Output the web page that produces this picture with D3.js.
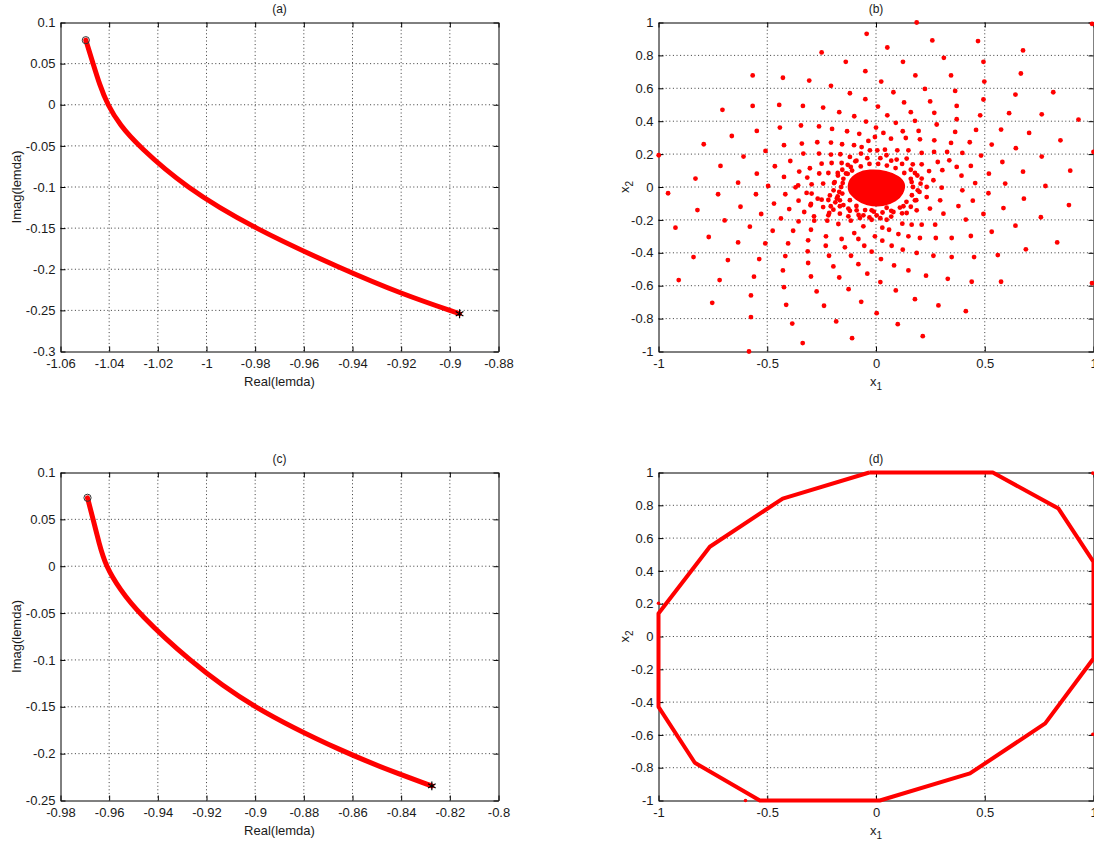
<!DOCTYPE html>
<html>
<head>
<meta charset="utf-8">
<script src="https://cdn.jsdelivr.net/npm/d3@7"></script>
<style>
  body { margin: 0; background: #fff; }
</style>
</head>
<body>
<script>
// ---------------------------------------------------------
// Daten
// ---------------------------------------------------------

// (a) Eigenwert-Verlauf
const curveA = [
  [-1.0496, 0.0785], [-1.0466, 0.05], [-1.044, 0.025], [-1.0407, 0.0], [-1.0355, -0.025],
  [-1.028, -0.05], [-1.0089, -0.1], [-0.9808, -0.15], [-0.944, -0.2], [-0.92, -0.2298],
  [-0.896, -0.2541]
];
// (c) Eigenwert-Verlauf
const curveC = [
  [-0.9689, 0.073], [-0.9666, 0.05], [-0.9642, 0.025], [-0.9614, 0.0], [-0.9555, -0.025],
  [-0.948, -0.05], [-0.9275, -0.1], [-0.9021, -0.15], [-0.8624, -0.2], [-0.84, -0.2227],
  [-0.8274, -0.2344]
];

// (b) Zustandspunkte
const bPoints = [
  // oben
  [0.187, 1.0], [-0.043, 0.931], [0.259, 0.891], [0.052, 0.848], [-0.250, 0.818], [-0.139, 0.761],
  [0.124, 0.761], [0.312, 0.785], [-0.049, 0.704], [-0.307, 0.647], [0.024, 0.641], [0.181, 0.678],
  [0.345, 0.678], [-0.207, 0.615], [0.225, 0.596], [-0.120, 0.570], [0.080, 0.576], [0.364, 0.584],
  [-0.049, 0.534], [-0.567, 0.678], [-0.428, 0.664], [0.993, 0.992], [0.469, 0.887], [0.676, 0.830],
  [0.494, 0.761], [0.666, 0.690], [0.498, 0.641], [0.641, 0.562], [0.815, 0.576], [0.494, 0.532],
  [0.249, 0.520], [0.129, 0.514], [0.009, 0.489],
  // links
  [-0.567, 0.493], [-0.706, 0.469], [-0.663, 0.310], [-0.548, 0.341], [-0.792, 0.260], [-0.999, 0.193],
  [-0.609, 0.185], [-0.715, 0.128], [-0.548, 0.081], [-0.830, 0.051], [-0.634, 0.026],
  [-0.956, -0.038], [-0.726, -0.044], [-0.552, -0.044], [-0.821, -0.140], [-0.623, -0.120],
  [-0.696, -0.203], [-0.922, -0.247], [-0.580, -0.241], [-0.769, -0.304], [-0.634, -0.337],
  [-0.839, -0.426], [-0.681, -0.444], [-0.537, -0.438], [-0.907, -0.566], [-0.719, -0.566],
  [-0.561, -0.545], [-0.575, -0.659], [-0.753, -0.704], [-0.575, -0.791], [-0.584, -1.0],
  // unten links
  [-0.509, -0.343], [-0.404, -0.343], [-0.417, -0.420], [-0.428, -0.507], [-0.423, -0.609],
  [-0.413, -0.716], [-0.385, -0.830], [-0.337, -0.949], [-0.475, -0.266], [-0.381, -0.266],
  [-0.528, -0.164], [-0.437, -0.191], [-0.356, -0.209], [-0.469, -0.101], [-0.356, -0.083],
  [-0.399, -0.134], [-0.330, -0.152], [-0.417, -0.044], [-0.370, -0.002],
  // unten mitte
  [-0.100, -0.280], [-0.230, -0.300], [-0.158, -0.316], [-0.081, -0.316], [-0.005, -0.300],
  [0.029, -0.326], [0.103, -0.286], [0.149, -0.300], [0.202, -0.310], [0.275, -0.310], [0.348, -0.310],
  [-0.312, -0.324], [-0.231, -0.357], [-0.143, -0.367], [-0.054, -0.357], [0.072, -0.357],
  [0.123, -0.381], [-0.314, -0.391], [-0.216, -0.418], [-0.115, -0.418], [-0.020, -0.393],
  [0.023, -0.438], [0.187, -0.401], [0.264, -0.418], [0.348, -0.426], [-0.312, -0.462],
  [-0.196, -0.483], [-0.081, -0.469], [0.083, -0.477], [0.149, -0.507], [-0.299, -0.544],
  [-0.169, -0.550], [-0.040, -0.527], [0.230, -0.539], [0.330, -0.558], [0.020, -0.578],
  [-0.273, -0.635], [-0.126, -0.621], [0.091, -0.629], [0.179, -0.682], [-0.068, -0.698],
  [-0.239, -0.722], [0.287, -0.720], [0.003, -0.767], [-0.183, -0.817], [0.100, -0.834],
  [-0.110, -0.919], [0.215, -0.907],
  [-0.127, -0.178], [-0.284, -0.205], [-0.224, -0.205], [-0.173, -0.225], [-0.116, -0.205],
  [-0.074, -0.189], [-0.058, -0.239], [-0.020, -0.199], [0.029, -0.247], [0.049, -0.199],
  [0.121, -0.223], [0.164, -0.229], [0.210, -0.229], [0.272, -0.229], [-0.299, -0.260], [0.060, -0.260],
  [-0.319, -0.036], [-0.268, -0.071], [-0.299, -0.103], [-0.243, -0.122], [-0.219, -0.079],
  [-0.187, -0.093], [-0.176, -0.057], [-0.196, -0.138], [-0.166, -0.117], [-0.215, -0.158],
  // unten rechts
  [0.445, -0.083], [0.379, -0.116], [0.586, -0.128], [0.494, -0.164], [0.413, -0.198], [0.758, -0.184],
  [0.641, -0.235], [0.532, -0.272], [0.436, -0.298], [0.833, -0.337], [0.689, -0.379], [0.560, -0.414],
  [0.451, -0.426], [0.440, -0.576], [0.575, -0.576], [0.993, -0.584], [0.413, -0.755], [0.517, -0.038],
  [0.680, -0.071], [0.887, -0.110], [0.397, -0.020],
  // oben rechts
  [0.479, 0.436], [0.612, 0.449], [0.762, 0.442], [0.931, 0.410], [0.460, 0.347], [0.575, 0.349],
  [0.704, 0.329], [0.431, 0.272], [0.532, 0.258], [0.643, 0.236], [0.848, 0.284], [0.397, 0.207],
  [0.483, 0.191], [0.762, 0.185], [1.0, 0.213], [0.337, 0.162], [0.436, 0.128], [0.581, 0.152],
  [0.393, 0.069], [0.519, 0.081], [0.676, 0.093], [0.893, 0.099], [0.456, 0.024], [0.594, 0.021],
  [0.779, 0.006], [0.371, 0.493], [0.371, 0.412], [0.364, 0.335],
  // mitte
  [-0.445, 0.499], [-0.336, 0.493], [-0.243, 0.483], [-0.169, 0.455], [-0.100, 0.430], [-0.046, 0.398],
  [0.052, 0.436], [0.160, 0.455], [0.268, 0.451], [0.091, 0.390], [0.179, 0.402], [0.279, 0.380],
  [-0.442, 0.361], [-0.345, 0.374], [-0.262, 0.368], [-0.202, 0.353], [-0.133, 0.339], [-0.077, 0.323],
  [0.0, 0.361], [0.034, 0.329], [0.069, 0.294], [0.123, 0.339], [0.137, 0.298], [0.196, 0.341],
  [0.202, 0.290], [0.268, 0.284], [0.345, 0.268],
  [-0.508, 0.219], [-0.423, 0.254], [-0.341, 0.264], [-0.270, 0.272], [-0.207, 0.270], [-0.156, 0.260],
  [-0.101, 0.254], [-0.066, 0.243], [-0.035, 0.280], [-0.005, 0.304], [-0.028, 0.223], [0.006, 0.223],
  [0.041, 0.227], [0.048, 0.193], [0.098, 0.223], [0.149, 0.223], [0.210, 0.207], [0.267, 0.213],
  [0.284, 0.152], [0.327, 0.213],
  [-0.394, 0.158], [-0.334, 0.203], [-0.262, 0.203], [-0.207, 0.197], [-0.164, 0.199], [-0.120, 0.183],
  [-0.095, 0.156], [-0.069, 0.203], [0.095, 0.167], [0.141, 0.173], [0.169, 0.138], [0.210, 0.138],
  [0.244, 0.097], [0.305, 0.102], [0.371, 0.122],
  [-0.465, 0.126], [-0.353, 0.094], [-0.304, 0.114], [-0.250, 0.142], [-0.204, 0.146], [-0.158, 0.146],
  [-0.116, 0.122],
  [-0.423, 0.061], [-0.316, 0.057], [-0.261, 0.082], [-0.219, 0.085], [-0.176, 0.085], [-0.138, 0.082],
  [-0.496, 0.006], [-0.358, 0.010], [-0.296, 0.016], [-0.243, 0.021], [-0.193, 0.024], [-0.153, 0.024],
  [0.179, 0.085], [0.210, 0.051], [0.164, 0.030], [0.264, 0.041], [0.302, -0.004], [0.233, 0.0],
  [0.192, -0.020],
  [-0.296, -0.040], [-0.301, -0.111], [-0.250, -0.077], [-0.212, -0.051], [-0.208, -0.117],
  [-0.166, -0.081], [-0.169, -0.030],
  [-0.285, -0.178], [-0.219, -0.172], [-0.166, -0.162], [-0.127, -0.131], [-0.089, -0.142],
  [-0.058, -0.172], [-0.020, -0.142], [0.003, -0.172], [0.049, -0.126], [0.080, -0.152],
  [0.126, -0.117], [0.141, -0.158], [0.179, -0.081], [0.187, -0.142], [0.233, -0.061],
  [0.248, -0.131], [0.295, -0.081], [0.310, -0.162],
  // dichte Arme direkt am Kern
  [-0.11, 0.10], [-0.07, 0.125], [-0.03, 0.14], [0.01, 0.14], [0.05, 0.13], [0.09, 0.115],
  [0.13, 0.085], [0.16, 0.05], [0.17, 0.0], [0.165, -0.05], [0.14, -0.09], [0.11, -0.125],
  [0.07, -0.145], [0.03, -0.155], [-0.01, -0.15], [-0.05, -0.14], [-0.09, -0.115], [-0.12, -0.08],
  [-0.155, -0.04], [-0.16, 0.0], [-0.15, 0.05], [-0.13, 0.08],
  [-0.13, 0.135], [-0.09, 0.16], [-0.04, 0.175], [0.02, 0.175], [0.07, 0.16], [0.12, 0.14],
  [0.16, 0.105], [0.19, 0.07], [0.205, 0.02], [0.2, -0.03], [0.185, -0.08], [0.16, -0.12],
  [0.12, -0.16], [0.07, -0.18], [0.02, -0.19], [-0.03, -0.185], [-0.08, -0.17], [-0.12, -0.145],
  [-0.15, -0.11], [-0.18, -0.07], [-0.195, -0.02], [-0.19, 0.03], [-0.175, 0.07], [-0.155, 0.105]
];

// (b) dichter Kern um den Ursprung (Umriss)
const bCore = [
  [-0.12, 0.035], [-0.085, 0.08], [-0.028, 0.10], [0.045, 0.092], [0.10, 0.062], [0.128, 0.018],
  [0.12, -0.038], [0.088, -0.082], [0.032, -0.11], [-0.04, -0.105], [-0.09, -0.072], [-0.122, -0.026]
];

// (d) Grenzzyklus (Polygon) und Einzelpunkte
const dPath = [
  [-0.031, 1], [0.537, 1], [0.839, 0.78], [1.0, 0.455], [1.0, -0.134], [0.778, -0.53],
  [0.432, -0.835], [0.018, -1], [-0.534, -1], [-0.833, -0.77], [-1, -0.429], [-1, 0.14],
  [-0.764, 0.547], [-0.429, 0.841], [-0.031, 1]
];
const dDots = [[0.997, 0.996], [-1, 0.203], [0.997, -0.596], [-0.6, -1]];

// Achsen-Ticks
const xTicksA = [-1.06, -1.04, -1.02, -1, -0.98, -0.96, -0.94, -0.92, -0.9, -0.88];
const yTicksA = [-0.3, -0.25, -0.2, -0.15, -0.1, -0.05, 0, 0.05, 0.1];
const xTicksC = [-0.98, -0.96, -0.94, -0.92, -0.9, -0.88, -0.86, -0.84, -0.82, -0.8];
const yTicksC = [-0.25, -0.2, -0.15, -0.1, -0.05, 0, 0.05, 0.1];
const xTicksBD = [-1, -0.5, 0, 0.5, 1];
const yTicksBD = [-1, -0.8, -0.6, -0.4, -0.2, 0, 0.2, 0.4, 0.6, 0.8, 1];

// ---------------------------------------------------------
// Zeichnen
// ---------------------------------------------------------
const FONT = '"Liberation Sans", Arial, Helvetica, sans-serif';
const TXT = '#1a1a1a';
const RED = '#ff0000';
const fmt = (d) => String(+d.toFixed(2));

const svg = d3.select('body').append('svg')
  .attr('width', 1094).attr('height', 845)
  .style('background', '#fff');

function panel(box, xTicks, yTicks, title, xLabel, yLabel) {
  const xDom = [xTicks[0], xTicks[xTicks.length - 1]];
  const yDom = [yTicks[0], yTicks[yTicks.length - 1]];
  const x = d3.scaleLinear().domain(xDom).range([box.x0, box.x1]);
  const y = d3.scaleLinear().domain(yDom).range([box.y1, box.y0]);
  const g = svg.append('g');

  // Gitter
  g.append('g').selectAll('line')
    .data(xTicks.slice(1, -1)).join('line')
    .attr('x1', (d) => x(d)).attr('x2', (d) => x(d))
    .attr('y1', box.y0).attr('y2', box.y1);
  g.append('g').selectAll('line')
    .data(yTicks.slice(1, -1)).join('line')
    .attr('y1', (d) => y(d)).attr('y2', (d) => y(d))
    .attr('x1', box.x0).attr('x2', box.x1);
  g.selectAll('line')
    .attr('stroke', '#3a3a3a')
    .attr('stroke-width', 1)
    .attr('stroke-dasharray', '1,2.6');

  // Achsen (Ticks nach innen)
  const axes = [
    [d3.axisBottom(x).tickValues(xTicks).tickFormat(fmt).tickPadding(7), `translate(0,${box.y1})`],
    [d3.axisLeft(y).tickValues(yTicks).tickFormat(fmt).tickPadding(5), `translate(${box.x0},0)`],
    [d3.axisTop(x).tickValues(xTicks).tickFormat(''), `translate(0,${box.y0})`],
    [d3.axisRight(y).tickValues(yTicks).tickFormat(''), `translate(${box.x1},0)`],
  ];
  axes.forEach(([ax, tr]) => {
    g.append('g')
      .attr('transform', tr)
      .call(ax.tickSize(-5).tickSizeOuter(0))
      .attr('font-size', 13)
      .attr('font-family', FONT)
      .attr('color', '#000')
      .call((s) => s.selectAll('text').attr('fill', TXT));
  });

  const cx = (box.x0 + box.x1) / 2;
  g.append('text')
    .attr('x', cx).attr('y', box.y0 - 10)
    .attr('text-anchor', 'middle')
    .attr('font-family', FONT).attr('font-size', 12).attr('fill', TXT)
    .text(title);

  const xl = g.append('text')
    .attr('x', cx).attr('y', box.y1 + 34)
    .attr('text-anchor', 'middle')
    .attr('font-family', FONT).attr('font-size', 13).attr('fill', TXT);
  xl.append('tspan').text(xLabel[0]);
  if (xLabel[1]) xl.append('tspan').attr('dy', 4).attr('font-size', 10).text(xLabel[1]);

  const cy = (box.y0 + box.y1) / 2;
  const yl = g.append('text')
    .attr('transform', `translate(${box.x0 - yLabel[2]},${cy}) rotate(-90)`)
    .attr('text-anchor', 'middle')
    .attr('font-family', FONT).attr('font-size', 13).attr('fill', TXT);
  yl.append('tspan').text(yLabel[0]);
  if (yLabel[1]) yl.append('tspan').attr('dy', 4).attr('font-size', 10).text(yLabel[1]);

  return { x, y, g: g.append('g') };
}

function eigenCurve(p, data) {
  const line = d3.line()
    .x((d) => p.x(d[0])).y((d) => p.y(d[1]))
    .curve(d3.curveBasis);
  p.g.append('path')
    .attr('d', line(data))
    .attr('fill', 'none')
    .attr('stroke', RED)
    .attr('stroke-width', 5)
    .attr('stroke-linecap', 'round');
  const s = data[0];
  const e = data[data.length - 1];
  p.g.append('circle')
    .attr('cx', p.x(s[0])).attr('cy', p.y(s[1])).attr('r', 3.6)
    .attr('fill', 'none').attr('stroke', '#333').attr('stroke-width', 1);
  p.g.append('path')
    .attr('transform', `translate(${p.x(e[0])},${p.y(e[1])})`)
    .attr('d', d3.symbol(d3.symbolAsterisk, 55)())
    .attr('fill', 'none').attr('stroke', '#000').attr('stroke-width', 1.2);
}

// (a)
const pa = panel({ x0: 60.5, x1: 498.5, y0: 22.5, y1: 351.5 }, xTicksA, yTicksA,
  '(a)', ['Real(lemda)'], ['Imag(lemda)', null, 40]);
eigenCurve(pa, curveA);

// (b)
const pb = panel({ x0: 658.5, x1: 1093.5, y0: 22.5, y1: 351.5 }, xTicksBD, yTicksBD,
  '(b)', ['x', '1'], ['x', '2', 30]);
pb.g.append('path')
  .attr('d', d3.line().x((d) => pb.x(d[0])).y((d) => pb.y(d[1])).curve(d3.curveCardinalClosed)(bCore))
  .attr('fill', RED).attr('stroke', RED).attr('stroke-width', 2);
pb.g.selectAll('circle.pt')
  .data(bPoints).join('circle')
  .attr('class', 'pt')
  .attr('cx', (d) => pb.x(d[0])).attr('cy', (d) => pb.y(d[1]))
  .attr('r', 2.4)
  .attr('fill', RED);

// (c)
const pc = panel({ x0: 60.5, x1: 498.5, y0: 472.5, y1: 800.5 }, xTicksC, yTicksC,
  '(c)', ['Real(lemda)'], ['Imag(lemda)', null, 40]);
eigenCurve(pc, curveC);

// (d)
const pd = panel({ x0: 658.5, x1: 1093.5, y0: 472.5, y1: 800.5 }, xTicksBD, yTicksBD,
  '(d)', ['x', '1'], ['x', '2', 30]);
pd.g.append('path')
  .attr('d', d3.line().x((d) => pd.x(d[0])).y((d) => pd.y(d[1]))(dPath))
  .attr('fill', 'none').attr('stroke', RED)
  .attr('stroke-width', 4).attr('stroke-linejoin', 'round');
pd.g.selectAll('circle.pt')
  .data(dDots).join('circle')
  .attr('class', 'pt')
  .attr('cx', (d) => pd.x(d[0])).attr('cy', (d) => pd.y(d[1]))
  .attr('r', 1.8)
  .attr('fill', RED);
</script>
</body>
</html>
